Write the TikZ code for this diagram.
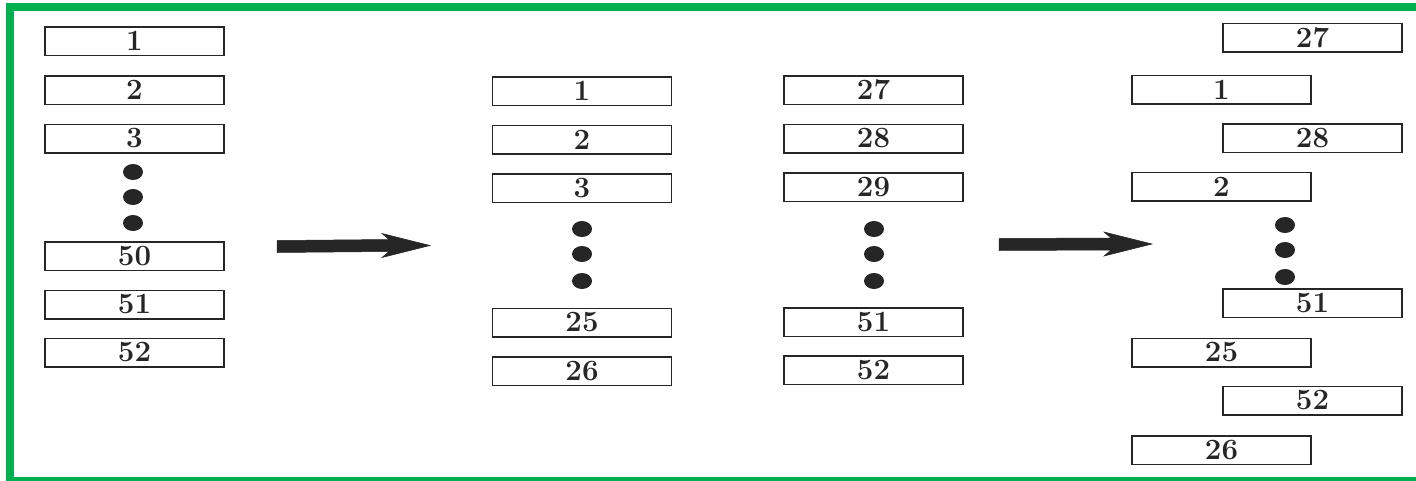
\documentclass[tikz,border=0pt]{standalone}
\usetikzlibrary{calc}
\definecolor{framegreen}{HTML}{00B050}
\definecolor{ink}{HTML}{262626}
\newcommand\lbl[1]{\scalebox{1.4}{#1}}
\begin{document}
\begin{tikzpicture}[x=1pt,y=-1pt,
  cell/.style={draw=ink,line width=1.5pt,minimum width=179pt,minimum height=28.5pt,inner sep=0pt,
    font=\fontsize{21}{21}\selectfont\bfseries,text=ink},
  dotmark/.style={fill=ink},
  bigarrow/.style={fill=ink,draw=ink,line width=0.5pt,line join=miter}]
\useasboundingbox (0,0) rectangle (1416,480);
\fill[white] (0,0) rectangle (1416,480);
\draw[framegreen,line width=8pt] (10,7) rectangle (1430,481);
% left column
\node[cell] (L1) at (134.5,41) {\lbl{1}};
\node[cell] (L2) at (134.5,90) {\lbl{2}};
\node[cell] (L3) at (134.5,138.5) {\lbl{3}};
\node[cell] (L50) at (134.5,256) {\lbl{50}};
\node[cell] (L51) at (134.5,304.5) {\lbl{51}};
\node[cell] (L52) at (134.5,352.5) {\lbl{52}};
\foreach \y in {172,197,223} \fill[dotmark] (133,\y) ellipse [x radius=10, y radius=8];
% middle left column
\node[cell] (A1) at (582,91) {\lbl{1}};
\node[cell] (A2) at (582,139.5) {\lbl{2}};
\node[cell] (A3) at (582,188) {\lbl{3}};
\node[cell] (A25) at (582,322.5) {\lbl{25}};
\node[cell] (A26) at (582,371) {\lbl{26}};
\foreach \y in {229,254,281} \fill[dotmark] (582,\y) ellipse [x radius=10, y radius=8];
% middle right column
\node[cell] (B27) at (873.5,90) {\lbl{27}};
\node[cell] (B28) at (873.5,138.5) {\lbl{28}};
\node[cell] (B29) at (873.5,187) {\lbl{29}};
\node[cell] (B51) at (873.5,322) {\lbl{51}};
\node[cell] (B52) at (873.5,370) {\lbl{52}};
\foreach \y in {229,254,281} \fill[dotmark] (874,\y) ellipse [x radius=10, y radius=8];
% right column (interleaved)
\node[cell] (R27) at (1312.5,37.5) {\lbl{27}};
\node[cell] (R1) at (1221.5,89.5) {\lbl{1}};
\node[cell] (R28) at (1312.5,138) {\lbl{28}};
\node[cell] (R2) at (1221.5,186.5) {\lbl{2}};
\node[cell] (R51) at (1312.5,303) {\lbl{51}};
\node[cell] (R25) at (1221.5,352.5) {\lbl{25}};
\node[cell] (R52) at (1312.5,400.5) {\lbl{52}};
\node[cell] (R26) at (1221.5,450) {\lbl{26}};
\foreach \y in {225,250,277} \fill[dotmark] (1285,\y) ellipse [x radius=10, y radius=8];
% arrows
\coordinate (a1s) at (277,246.5);
\coordinate (a1e) at (430,245.5);
\coordinate (a2s) at (999,244.5);
\coordinate (a2e) at (1152,244);
\foreach \s/\e in {a1s/a1e,a2s/a2e}
  \filldraw[bigarrow] ($(\s)+(0,-6)$) -- ($(\e)+(-41,-6)$) -- ($(\e)+(-48,-12)$) -- (\e)
    -- ($(\e)+(-48,12)$) -- ($(\e)+(-41,6)$) -- ($(\s)+(0,6)$) -- cycle;
\end{tikzpicture}
\end{document}
